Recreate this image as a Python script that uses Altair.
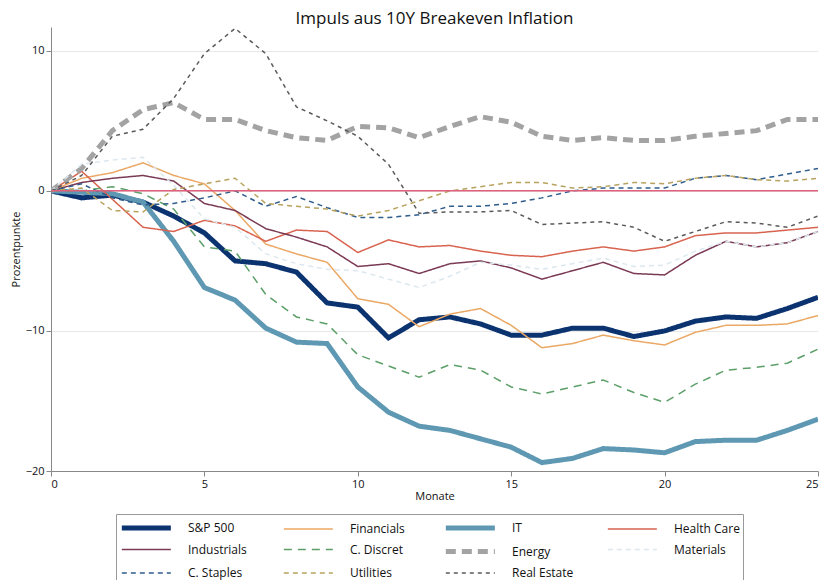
import altair as alt
import pandas as pd

months = list(range(26))

series_names = ["S&P 500", "Financials", "IT", "Health Care",
                "Industrials", "C. Discret", "Energy", "Materials",
                "C. Staples", "Utilities", "Real Estate"]

sp500 = [0, -0.5, -0.3, -0.8, -1.8, -3.0, -5.0, -5.2, -5.8, -8.0, -8.3, -10.5, -9.2,
         -9.0, -9.5, -10.3, -10.3, -9.8, -9.8, -10.4, -10.0, -9.3, -9.0, -9.1, -8.4, -7.6]
financials = [0, 0.9, 1.3, 2.0, 1.1, 0.5, -1.4, -3.8, -4.5, -5.1, -7.7, -8.1, -9.7,
              -8.8, -8.4, -9.6, -11.2, -10.9, -10.3, -10.7, -11.0, -10.1, -9.6, -9.6, -9.5, -8.9]
it = [0, -0.1, -0.2, -0.8, -3.6, -6.9, -7.8, -9.8, -10.8, -10.9, -14.0, -15.8, -16.8,
      -17.1, -17.7, -18.3, -19.4, -19.1, -18.4, -18.5, -18.7, -17.9, -17.8, -17.8, -17.1, -16.3]
health_care = [0, 1.4, -0.6, -2.6, -2.9, -2.1, -2.5, -3.6, -2.8, -2.9, -4.4, -3.5, -4.0,
               -3.9, -4.3, -4.6, -4.7, -4.3, -4.0, -4.3, -4.0, -3.2, -3.0, -3.0, -2.8, -2.6]
industrials = [0, 0.6, 0.9, 1.1, 0.7, -0.9, -1.4, -2.7, -3.3, -4.0, -5.4, -5.2, -5.9,
               -5.2, -5.0, -5.5, -6.3, -5.7, -5.1, -5.9, -6.0, -4.6, -3.6, -4.0, -3.7, -2.9]
c_discret = [0, 0.0, 0.3, -0.2, -1.3, -4.0, -4.3, -7.4, -9.0, -9.5, -11.7, -12.5, -13.3,
             -12.4, -12.8, -14.0, -14.5, -14.0, -13.5, -14.4, -15.1, -13.8, -12.8, -12.6, -12.3, -11.3]
energy = [0, 1.6, 4.3, 5.8, 6.3, 5.1, 5.1, 4.3, 3.8, 3.6, 4.6, 4.5, 3.8,
          4.6, 5.3, 4.9, 3.9, 3.6, 3.8, 3.6, 3.6, 3.9, 4.1, 4.3, 5.1, 5.1]
materials = [0, 1.9, 2.2, 2.4, 0.4, -2.0, -2.6, -4.5, -5.2, -5.6, -5.7, -6.3, -6.9,
             -6.1, -5.1, -5.3, -5.6, -5.2, -4.8, -5.4, -5.3, -4.3, -3.6, -4.0, -3.7, -2.9]
c_staples = [0, 0.5, -0.5, -1.0, -0.9, -0.5, 0.0, -1.1, -0.4, -1.2, -1.9, -1.9, -1.7,
             -1.1, -1.1, -0.9, -0.5, 0.0, 0.2, 0.2, 0.2, 0.9, 1.1, 0.8, 1.2, 1.6]
utilities = [0, 0.2, -1.4, -1.5, 0.1, 0.5, 0.9, -0.9, -1.1, -1.3, -1.8, -1.4, -0.7,
             0.0, 0.3, 0.6, 0.6, 0.2, 0.3, 0.6, 0.5, 0.9, 1.1, 0.8, 0.7, 0.9]
real_estate = [0, 1.1, 3.9, 4.4, 6.6, 9.8, 11.6, 9.8, 6.0, 5.0, 3.9, 1.9, -1.6,
               -1.5, -1.5, -1.4, -2.4, -2.3, -2.2, -2.6, -3.6, -2.9, -2.2, -2.3, -2.6, -1.8]

all_values = [sp500, financials, it, health_care, industrials, c_discret, energy,
              materials, c_staples, utilities, real_estate]

colors = ["#0b3370", "#eba865", "#5e98b2", "#d8634f", "#7b3a54", "#5c9f68",
          "#a3a3a3", "#dce7ee", "#2f5d8c", "#b8a25e", "#5a5a5a"]
widths = [5, 1.5, 5, 1.5, 1.5, 1.5, 5, 1.5, 1.5, 1.5, 1.5]
dashes = [[1, 0], [1, 0], [1, 0], [1, 0], [1, 0], [8, 6], [10, 6], [5, 4], [5, 4], [5, 4], [4, 4]]

zero_line = [0]

rows = []
for name, vals in zip(series_names, all_values):
    for m, v in zip(months, vals):
        rows.append({"Serie": name, "Monat": m, "Wert": v})
df = pd.DataFrame(rows)
df_zero = pd.DataFrame({"y": zero_line})

font = "Open Sans"

x_enc = alt.X("Monat:Q", title="Monate",
              scale=alt.Scale(domain=[0, 25], nice=False),
              axis=alt.Axis(values=[0, 5, 10, 15, 20, 25], grid=False, format="d"))
y_enc = alt.Y("Wert:Q", title="Prozentpunkte",
              scale=alt.Scale(domain=[-20, 11.7], nice=False, zero=False),
              axis=alt.Axis(values=[-20, -10, 0, 10], grid=True, format="d"))

lines = alt.Chart(df).mark_line(clip=True).encode(
    x=x_enc,
    y=y_enc,
    color=alt.Color("Serie:N", scale=alt.Scale(domain=series_names, range=colors),
                    legend=alt.Legend(title=None, orient="none", legendX=65, legendY=487,
                                      columns=4, direction="horizontal",
                                      symbolType="M-1,0H5", symbolSize=267,
                                      labelFontSize=12, labelFont=font, labelColor="#111",
                                      columnPadding=19, rowPadding=2.5, gridAlign="all",
                                      labelOffset=47, strokeColor="#999", fillColor="white",
                                      padding=3, labelLimit=120)),
    strokeWidth=alt.StrokeWidth("Serie:N",
                                scale=alt.Scale(type="ordinal", domain=series_names, range=widths),
                                legend=None),
    strokeDash=alt.StrokeDash("Serie:N",
                              scale=alt.Scale(type="ordinal", domain=series_names, range=dashes),
                              legend=None),
    order=alt.Order("Monat:Q"),
)

zero = alt.Chart(df_zero).mark_rule(color="#e0607d", strokeWidth=1.5).encode(y="y:Q")

chart = alt.layer(lines, zero).properties(
    width=767, height=444,
    padding={"left": 2, "top": 2, "right": 0, "bottom": 0},
    title=alt.TitleParams("Impuls aus 10Y Breakeven Inflation", fontSize=17,
                          font=font, fontWeight="normal", offset=3, dy=4, color="#111"),
).configure_view(stroke=None).configure_axis(
    labelFont=font, titleFont=font, labelFontSize=11, titleFontSize=11,
    titleFontWeight="normal", domainColor="#888", tickColor="#888",
    gridColor="#e8e8e8", labelColor="#111", titleColor="#111",
).configure_axisX(titlePadding=1).configure_axisY(titlePadding=4)

chart.save("out.html", embed_options={"renderer": "svg", "actions": False})
